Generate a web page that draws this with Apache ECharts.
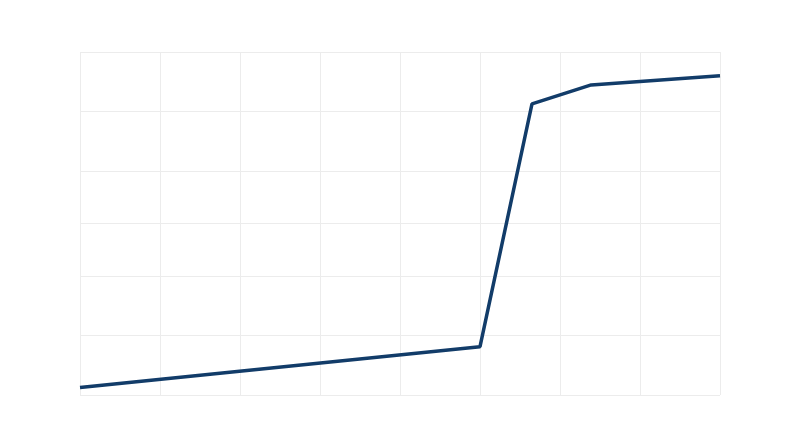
<!DOCTYPE html>
<html>
<head>
<meta charset="utf-8">
<script src="https://cdn.jsdelivr.net/npm/echarts@6/dist/echarts.min.js"></script>
<style>
  html, body { margin: 0; padding: 0; background: #fff; }
  #chart { width: 800px; height: 447px; }
</style>
</head>
<body>
<div id="chart"></div>
<script>
// x positions of the line points (grid columns 0..8)
var xValues = [0, 5, 5.65, 6.39, 8];
// y values (0..100 scale)
var yValues = [2.2, 14.1, 84.9, 90.4, 93.1];
// horizontal grid lines (not evenly spaced in the reference)
var yTicks = [0, 17.5, 34.7, 50, 65.3, 82.7, 100];

var lineChart = function () {
  var dom = document.getElementById('chart');
  var chart = echarts.init(dom);
  var points = xValues.map(function (x, i) { return [x, yValues[i]]; });
  var option = {
    animation: false,
    grid: { left: 80, right: 80, top: 52, bottom: 52 },
    xAxis: {
      type: 'value',
      min: 0,
      max: 8,
      interval: 1,
      axisLine: { show: false },
      axisTick: { show: false },
      axisLabel: { show: false },
      splitLine: { show: true, lineStyle: { color: '#ececec', width: 1 } }
    },
    yAxis: {
      type: 'value',
      min: 0,
      max: 100,
      axisLine: { show: false },
      axisTick: { show: false, customValues: yTicks },
      axisLabel: { show: false },
      splitLine: { show: true, lineStyle: { color: '#ececec', width: 1 } }
    },
    series: [{
      type: 'line',
      data: points,
      symbol: 'none',
      lineStyle: { color: '#123c69', width: 3.5 }
    }]
  };
  chart.setOption(option);
};
lineChart();
</script>
</body>
</html>
